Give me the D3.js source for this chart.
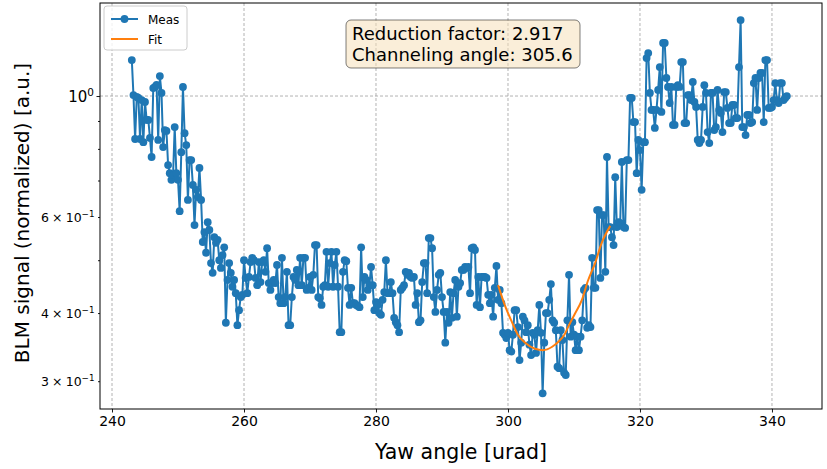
<!DOCTYPE html>
<html>
<head>
<meta charset="utf-8">
<script src="https://cdn.jsdelivr.net/npm/d3@7"></script>
<style>
  body { margin: 0; background: #fff; }
  text { font-family: "DejaVu Sans", sans-serif; fill: #000; }
</style>
</head>
<body>
<svg id="chart" width="827" height="469"></svg>
<script>
// yaw scan (urad)
const yaw = [
  243,243.25,243.5,243.75,244,244.25,244.5,244.75,
  245,245.25,245.5,245.75,246,246.25,246.5,246.75,
  247,247.25,247.5,247.75,248,248.25,248.5,248.75,
  249,249.25,249.5,249.75,250,250.25,250.5,250.75,
  251,251.25,251.5,251.75,252,252.25,252.5,252.75,
  253,253.25,253.5,253.75,254,254.25,254.5,254.75,
  255,255.25,255.5,255.75,256,256.25,256.5,256.75,
  257,257.25,257.5,257.75,258,258.25,258.5,258.75,
  259,259.25,259.5,259.75,260,260.25,260.5,260.75,
  261,261.25,261.5,261.75,262,262.25,262.5,262.75,
  263,263.25,263.5,263.75,264,264.25,264.5,264.75,
  265,265.25,265.5,265.75,266,266.25,266.5,266.75,
  267,267.25,267.5,267.75,268,268.25,268.5,268.75,
  269,269.25,269.5,269.75,270,270.25,270.5,270.75,
  271,271.25,271.5,271.75,272,272.25,272.5,272.75,
  273,273.25,273.5,273.75,274,274.25,274.5,274.75,
  275,275.25,275.5,275.75,276,276.25,276.5,276.75,
  277,277.25,277.5,277.75,278,278.25,278.5,278.75,
  279,279.25,279.5,279.75,280,280.25,280.5,280.75,
  281,281.25,281.5,281.75,282,282.25,282.5,282.75,
  283,283.25,283.5,283.75,284,284.25,284.5,284.75,
  285,285.25,285.5,285.75,286,286.25,286.5,286.75,
  287,287.25,287.5,287.75,288,288.25,288.5,288.75,
  289,289.25,289.5,289.75,290,290.25,290.5,290.75,
  291,291.25,291.5,291.75,292,292.25,292.5,292.75,
  293,293.25,293.5,293.75,294,294.25,294.5,294.75,
  295,295.25,295.5,295.75,296,296.25,296.5,296.75,
  297,297.25,297.5,297.75,298,298.25,298.5,298.75,
  299,299.25,299.5,299.75,300,300.25,300.5,300.75,
  301,301.25,301.5,301.75,302,302.25,302.5,302.75,
  303,303.25,303.5,303.75,304,304.25,304.5,304.75,
  305,305.25,305.5,305.75,306,306.25,306.5,306.75,
  307,307.25,307.5,307.75,308,308.25,308.5,308.75,
  309,309.25,309.5,309.75,310,310.25,310.5,310.75,
  311,311.25,311.5,311.75,312,312.25,312.5,312.75,
  313,313.25,313.5,313.75,314,314.25,314.5,314.75,
  315,315.25,315.5,315.75,316,316.25,316.5,316.75,
  317,317.25,317.5,317.75,318,318.25,318.5,318.75,
  319,319.25,319.5,319.75,320,320.25,320.5,320.75,
  321,321.25,321.5,321.75,322,322.25,322.5,322.75,
  323,323.25,323.5,323.75,324,324.25,324.5,324.75,
  325,325.25,325.5,325.75,326,326.25,326.5,326.75,
  327,327.25,327.5,327.75,328,328.25,328.5,328.75,
  329,329.25,329.5,329.75,330,330.25,330.5,330.75,
  331,331.25,331.5,331.75,332,332.25,332.5,332.75,
  333,333.25,333.5,333.75,334,334.25,334.5,334.75,
  335,335.25,335.5,335.75,336,336.25,336.5,336.75,
  337,337.25,337.5,337.75,338,338.25,338.5,338.75,
  339,339.25,339.5,339.75,340,340.25,340.5,340.75,
  341,341.25,341.5,341.75,342,342.25
]

// normalized BLM signal, same order as yaw
const signal = [
  1.164,1.004,0.834,0.996,0.992,0.834,0.983,0.823,0.975,0.904,
  0.904,0.838,0.773,1.034,1.039,1.048,0.831,1.088,1.013,0.806,
  0.866,0.863,0.747,0.722,0.702,0.717,0.877,0.722,0.702,0.615,
  0.789,1.039,0.855,0.813,0.645,0.763,0.763,0.687,0.580,0.673,
  0.653,0.738,0.645,0.540,0.563,0.516,0.587,0.568,0.494,0.474,
  0.551,0.538,0.545,0.500,0.484,0.511,0.528,0.384,0.460,0.494,
  0.474,0.447,0.460,0.435,
  0.380,0.405,0.428,0.432,0.500,0.464,0.435,0.466,0.496,0.505,
  0.500,0.464,0.450,0.496,0.456,0.496,0.500,0.476,0.526,0.454,
  0.441,0.454,0.460,0.454,0.490,0.428,0.417,0.505,0.417,0.428,
  0.476,0.380,0.380,0.428,0.466,0.460,0.480,0.450,0.505,0.450,
  0.505,0.505,0.441,0.445,0.466,0.441,0.470,0.533,0.533,0.428,
  0.426,0.414,0.447,0.450,0.518,0.447,0.494,0.518,0.447,0.490,
  0.518,0.447,0.369,0.369,0.476,
  0.500,0.498,0.445,0.414,0.445,0.417,0.417,0.414,0.412,0.410,
  0.528,0.428,0.466,0.460,0.441,0.450,0.486,0.450,0.405,0.419,
  0.414,0.400,0.397,0.423,0.437,0.500,0.435,0.435,0.456,0.435,
  0.392,0.385,0.380,0.369,0.441,0.445,0.450,0.476,0.470,0.474,
  0.466,0.464,0.466,0.414,0.435,0.385,0.388,0.456,0.494,0.494,
  0.435,0.549,0.549,0.526,0.428,0.402,0.441,0.470,0.474,0.428,
  0.402,0.353,0.402,0.384,0.437,0.392,0.435,0.460,0.394,0.447,
  0.454,0.480,0.480,0.486,0.484,0.486,0.435,0.526,0.528,0.522,
  0.414,0.466,0.410,0.466,0.466,0.466,0.464,0.432,
  0.417,0.432,0.394,0.445,0.488,0.423,0.441,0.417,0.368,0.365,
  0.360,0.368,0.342,0.340,0.365,0.405,0.405,0.377,0.328,0.353,
  0.394,0.388,0.369,0.380,0.350,0.335,0.368,0.365,0.338,0.372,
  0.414,0.368,0.285,0.353,0.400,0.400,0.423,0.452,0.388,0.384,
  0.372,0.319,0.317,0.372,0.357,0.311,0.308,0.388,0.470,0.362,
  0.385,0.365,0.342,0.362,0.342,0.362,0.388,0.441,0.445,0.376,
  0.380,0.377,0.505,0.445,0.445,0.618,0.618,0.464,0.605,0.605,
  0.476,0.773,0.575,0.575,0.551,0.533,
  0.710,0.575,0.587,0.585,0.757,0.575,0.573,0.763,0.763,0.992,
  0.992,0.896,0.896,0.722,0.831,0.796,0.673,0.823,0.823,1.174,
  1.199,1.013,0.943,0.943,0.874,0.943,1.026,1.130,0.935,1.251,
  1.251,1.079,1.039,0.971,1.039,0.885,0.885,1.039,1.047,1.039,
  1.154,1.154,0.892,0.892,1.004,1.004,0.983,1.061,0.975,0.955,
  0.831,0.820,0.831,0.955,1.047,1.013,0.859,0.820,1.013,1.013,
  0.866,0.877,1.026,0.943,0.931,0.859,1.017,1.017,0.951,0.892,
  0.892,0.963,0.963,0.911,0.911,1.130,1.378,0.877,0.877,0.848,
  0.923,0.923,0.892,0.896,1.056,1.079,0.943,1.079,1.102,1.102,
  0.896,1.164,1.164,0.951,0.951,0.955,0.983,1.056,0.983,0.971,
  1.056,1.056,0.983,0.992,1.000
]

// orange fit curve
const fitYaw = [298.5, 299.5, 300.6, 301.5, 302.6, 304.1, 305.3, 306.7, 307.6, 308.6, 309.1, 310.2, 311.2, 312.1, 313.2, 314.2, 315.5]
const fitSignal = [0.450, 0.414, 0.385, 0.365, 0.353, 0.344, 0.342, 0.347, 0.354, 0.366, 0.377, 0.400, 0.423, 0.458, 0.494, 0.538, 0.578]

const xTicks = [240, 260, 280, 300, 320, 340]
const yMajor = [1]
const yMinor = [0.3, 0.4, 0.5, 0.6, 0.7, 0.8, 0.9]
const yMinorLabels = [[0.6, "6"], [0.4, "4"], [0.3, "3"]]
const boxLines = ["Reduction factor: 2.917", "Channeling angle: 305.6"]
const seriesNames = ["Meas", "Fit"]

const blue = "#1f77b4"
const orange = "#ff7f0e"

const plot = { left: 100, right: 822, top: 3, bottom: 409 }

const x = d3.scaleLinear().domain([238.18, 347.58]).range([plot.left, plot.right])
const y = d3.scaleLog().domain([0.2668, 1.481]).range([plot.bottom, plot.top])

const svg = d3.select("#chart")

svg.append("rect")
  .attr("width", 827).attr("height", 469)
  .attr("fill", "#fff")

svg.append("defs").append("clipPath").attr("id", "clip")
  .append("rect")
  .attr("x", plot.left).attr("y", plot.top)
  .attr("width", plot.right - plot.left).attr("height", plot.bottom - plot.top)

// grid
const grid = svg.append("g")
  .attr("stroke", "#a0a0a0")
  .attr("stroke-width", 0.8)
  .attr("stroke-dasharray", "3,2")

grid.selectAll("line.v").data(xTicks).join("line")
  .attr("class", "v")
  .attr("x1", d => x(d)).attr("x2", d => x(d))
  .attr("y1", plot.top).attr("y2", plot.bottom)

grid.selectAll("line.h").data(yMajor).join("line")
  .attr("class", "h")
  .attr("x1", plot.left).attr("x2", plot.right)
  .attr("y1", d => y(d)).attr("y2", d => y(d))

// measured data
const gData = svg.append("g").attr("clip-path", "url(#clip)")

const pts = yaw.map((d, i) => [d, signal[i]])

gData.append("path")
  .datum(pts)
  .attr("fill", "none")
  .attr("stroke", blue)
  .attr("stroke-width", 2)
  .attr("stroke-linejoin", "round")
  .attr("d", d3.line().x(d => x(d[0])).y(d => y(d[1])))

gData.append("g")
  .attr("fill", blue)
  .selectAll("circle").data(pts).join("circle")
  .attr("cx", d => x(d[0]))
  .attr("cy", d => y(d[1]))
  .attr("r", 3.9)

// fit
gData.append("path")
  .datum(fitYaw.map((d, i) => [d, fitSignal[i]]))
  .attr("fill", "none")
  .attr("stroke", orange)
  .attr("stroke-width", 2)
  .attr("d", d3.line().curve(d3.curveMonotoneX).x(d => x(d[0])).y(d => y(d[1])))

// axes
const xAxis = svg.append("g")
  .attr("transform", `translate(0,${plot.bottom})`)
  .call(d3.axisBottom(x).tickValues(xTicks).tickSize(3.5).tickPadding(3.5).tickFormat(d3.format("d")))
xAxis.select(".domain").remove()
xAxis.selectAll("text").attr("font-size", 14).attr("font-family", "DejaVu Sans")

const yAxisMaj = svg.append("g")
  .attr("transform", `translate(${plot.left},0)`)
  .call(d3.axisLeft(y).tickValues(yMajor).tickSize(3.5).tickFormat(""))
yAxisMaj.select(".domain").remove()

const yAxisMin = svg.append("g")
  .attr("transform", `translate(${plot.left},0)`)
  .call(d3.axisLeft(y).tickValues(yMinor).tickSize(2).tickFormat(""))
yAxisMin.select(".domain").remove()
svg.selectAll(".tick line").attr("stroke", "#000").attr("stroke-width", 0.9)

// y tick labels (matplotlib log formatter style)
const lab0 = svg.append("text")
  .attr("x", plot.left - 6)
  .attr("y", y(1) + 5.5)
  .attr("text-anchor", "end")
  .attr("font-size", 15)
lab0.append("tspan").text("10")
lab0.append("tspan").attr("dy", "-0.5em").attr("font-size", "70%").text("0")

yMinorLabels.forEach(([v, m]) => {
  const t = svg.append("text")
    .attr("x", plot.left - 5.5)
    .attr("y", y(v) + 4.5)
    .attr("text-anchor", "end")
    .attr("font-size", 12.5)
  t.append("tspan").text(`${m}\u2005\u00d7\u200510`)
  t.append("tspan").attr("dy", "-0.5em").attr("font-size", "70%").text("\u22121")
})

// frame
svg.append("rect")
  .attr("x", plot.left).attr("y", plot.top)
  .attr("width", plot.right - plot.left).attr("height", plot.bottom - plot.top)
  .attr("fill", "none")
  .attr("stroke", "#000")
  .attr("stroke-width", 1)

// axis titles
svg.append("text")
  .attr("x", (plot.left + plot.right) / 2)
  .attr("y", 459)
  .attr("text-anchor", "middle")
  .attr("font-size", 20.5)
  .text("Yaw angle [urad]")

svg.append("text")
  .attr("transform", `translate(29,213) rotate(-90)`)
  .attr("text-anchor", "middle")
  .attr("font-size", 20)
  .text("BLM signal (normalized) [a.u.]")

// legend
const leg = svg.append("g")
leg.append("rect")
  .attr("x", 104).attr("y", 6)
  .attr("width", 83).attr("height", 44)
  .attr("rx", 3)
  .attr("fill", "#fff").attr("fill-opacity", 0.8)
  .attr("stroke", "#ccc")

seriesNames.forEach((name, i) => {
  const ly = 19 + i * 20
  const col = i === 0 ? blue : orange
  leg.append("line")
    .attr("x1", 111).attr("x2", 138)
    .attr("y1", ly).attr("y2", ly)
    .attr("stroke", col).attr("stroke-width", 2)
  if (i === 0) {
    leg.append("circle").attr("cx", 124.5).attr("cy", ly).attr("r", 3.9).attr("fill", col)
  }
  leg.append("text")
    .attr("x", 148).attr("y", ly + 4.5)
    .attr("font-size", 12)
    .text(name)
})

// annotation box
const box = svg.append("g")
box.append("rect")
  .attr("x", 346).attr("y", 20)
  .attr("width", 234).attr("height", 48)
  .attr("rx", 5)
  .attr("fill", "#f5deb3").attr("fill-opacity", 0.5)
  .attr("stroke", "#000").attr("stroke-opacity", 0.5)
  .attr("stroke-width", 1)

boxLines.forEach((s, i) => {
  box.append("text")
    .attr("x", 352)
    .attr("y", 39.5 + i * 21.5)
    .attr("font-size", 18)
    .text(s)
})
</script>
</body>
</html>
